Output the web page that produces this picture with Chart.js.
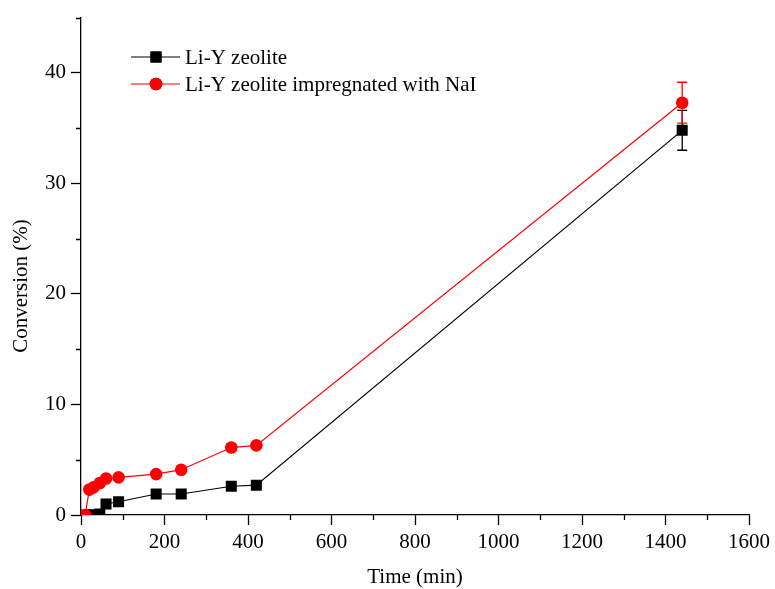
<!DOCTYPE html>
<html>
<head>
<meta charset="utf-8">
<script src="https://cdn.jsdelivr.net/npm/chart.js@4/dist/chart.umd.min.js"></script>
<style>
  html, body { margin: 0; padding: 0; background: #fff; }
  #wrap { width: 775px; height: 589px; }
</style>
</head>
<body>
<div id="wrap"><canvas id="c" width="775" height="589"></canvas></div>
<script>
// data
const times = [10, 20, 30, 45, 60, 90, 180, 240, 360, 420, 1440];
const liY = [0, 0, 0, 0.1, 1.0, 1.2, 1.9, 1.9, 2.6, 2.7, 34.8];
const liYErr = [0, 0, 0, 0, 0, 0, 0, 0, 0, 0, 1.8];
const liYNaI = [0, 2.3, 2.5, 2.9, 3.3, 3.4, 3.7, 4.1, 6.1, 6.3, 37.3];
const liYNaIErr = [0, 0, 0, 0, 0, 0, 0, 0, 0.3, 0, 1.85];

const xTicks = [0, 200, 400, 600, 800, 1000, 1200, 1400, 1600];
const xMinor = [100, 300, 500, 700, 900, 1100, 1300, 1500];
const yTicks = [0, 10, 20, 30, 40];
const yMinor = [5, 15, 25, 35, 45];

const labels = ["Li-Y zeolite", "Li-Y zeolite impregnated with NaI"];
const FONT = '"Times New Roman", "Liberation Serif", serif';

const toPoints = (ys) => times.map((t, i) => ({ x: t, y: ys[i] }));

// error bars, minor ticks, axis titles and the legend
const extras = {
  id: "extras",
  afterDatasetsDraw(chart) {
    const ctx = chart.ctx;
    const xs = chart.scales.x, ys = chart.scales.y;
    ctx.save();
    ctx.lineWidth = 1.3;
    chart.data.datasets.forEach((ds) => {
      ctx.strokeStyle = ds.borderColor;
      ds.errors.forEach((e, i) => {
        if (!e) return;
        const px = xs.getPixelForValue(times[i]);
        const top = ys.getPixelForValue(ds.data[i].y + e);
        const bot = ys.getPixelForValue(ds.data[i].y - e);
        ctx.beginPath();
        ctx.moveTo(px, top); ctx.lineTo(px, bot);
        ctx.moveTo(px - 5, top); ctx.lineTo(px + 5, top);
        ctx.moveTo(px - 5, bot); ctx.lineTo(px + 5, bot);
        ctx.stroke();
      });
    });
    ctx.restore();
  },
  afterDraw(chart) {
    const ctx = chart.ctx;
    const xs = chart.scales.x, ys = chart.scales.y;
    const area = chart.chartArea;
    ctx.save();
    ctx.strokeStyle = "#000";
    ctx.lineWidth = 1.3;
    ctx.beginPath();
    xMinor.forEach((v) => {
      const px = Math.round(xs.getPixelForValue(v)) + 0.5;
      ctx.moveTo(px, area.bottom); ctx.lineTo(px, area.bottom + 5);
    });
    yMinor.forEach((v) => {
      const py = Math.round(ys.getPixelForValue(v)) + 0.5;
      ctx.moveTo(area.left, py); ctx.lineTo(area.left - 5, py);
    });
    ctx.stroke();

    // axis titles
    ctx.fillStyle = "#000";
    ctx.font = "21px " + FONT;
    ctx.textAlign = "center";
    ctx.textBaseline = "middle";
    ctx.fillText("Time (min)", (area.left + area.right) / 2, 577);
    ctx.save();
    ctx.translate(21, 286);
    ctx.rotate(-Math.PI / 2);
    ctx.fillText("Conversion (%)", 0, 0);
    ctx.restore();

    // legend: line with marker, then text
    const rowsY = [57, 84];
    chart.data.datasets.forEach((ds, i) => {
      const y = rowsY[i];
      ctx.strokeStyle = ds.borderColor;
      ctx.lineWidth = ds.borderWidth;
      ctx.beginPath();
      ctx.moveTo(131, y); ctx.lineTo(180, y);
      ctx.stroke();
      Chart.helpers.drawPoint(ctx, {
        pointStyle: ds.pointStyle,
        radius: ds.pointRadius,
        rotation: 0,
        borderWidth: 0
      }, 156, y);
      ctx.fillStyle = ds.borderColor;
      ctx.fill();
      ctx.fillStyle = "#000";
      ctx.textAlign = "left";
      ctx.fillText(ds.label, 185, y + 1);
    });
    ctx.restore();
  }
};

new Chart(document.getElementById("c"), {
  type: "line",
  data: {
    datasets: [
      {
        label: labels[0],
        data: toPoints(liY),
        errors: liYErr,
        borderColor: "#000000",
        backgroundColor: "#000000",
        borderWidth: 1.2,
        pointStyle: "rect",
        pointRadius: 7.8,
        pointBorderWidth: 0,
        pointHoverRadius: 7.8,
        tension: 0,
        order: 2
      },
      {
        label: labels[1],
        data: toPoints(liYNaI),
        errors: liYNaIErr,
        borderColor: "#ff0000",
        backgroundColor: "#ff0000",
        borderWidth: 1.2,
        pointStyle: "circle",
        pointRadius: 6.3,
        pointBorderWidth: 0,
        pointHoverRadius: 6.3,
        tension: 0,
        order: 1
      }
    ]
  },
  options: {
    responsive: false,
    animation: false,
    layout: { padding: { top: 16, right: 25, left: 0, bottom: 0 } },
    plugins: {
      legend: { display: false },
      tooltip: { enabled: false }
    },
    scales: {
      x: {
        type: "linear",
        min: 0,
        max: 1600,
        afterBuildTicks: (s) => { s.ticks = xTicks.map((v) => ({ value: v })); },
        afterFit: (s) => { s.height = 74; },
        ticks: {
          color: "#000",
          font: { family: FONT, size: 21 },
          padding: 5,
          maxRotation: 0,
          autoSkip: false,
          callback: (v) => String(v)
        },
        grid: {
          drawOnChartArea: false,
          tickLength: 10,
          tickColor: "#000",
          tickWidth: 1.3
        },
        border: { color: "#000", width: 1.3 }
      },
      y: {
        min: 0,
        max: 45,
        afterBuildTicks: (s) => { s.ticks = yTicks.map((v) => ({ value: v })); },
        afterFit: (s) => { s.width = 81; },
        ticks: {
          color: "#000",
          font: { family: FONT, size: 21 },
          padding: 5,
          autoSkip: false,
          callback: (v) => String(v)
        },
        grid: {
          drawOnChartArea: false,
          tickLength: 10,
          tickColor: "#000",
          tickWidth: 1.3
        },
        border: { color: "#000", width: 1.3 }
      }
    }
  },
  plugins: [extras]
});
</script>
</body>
</html>
